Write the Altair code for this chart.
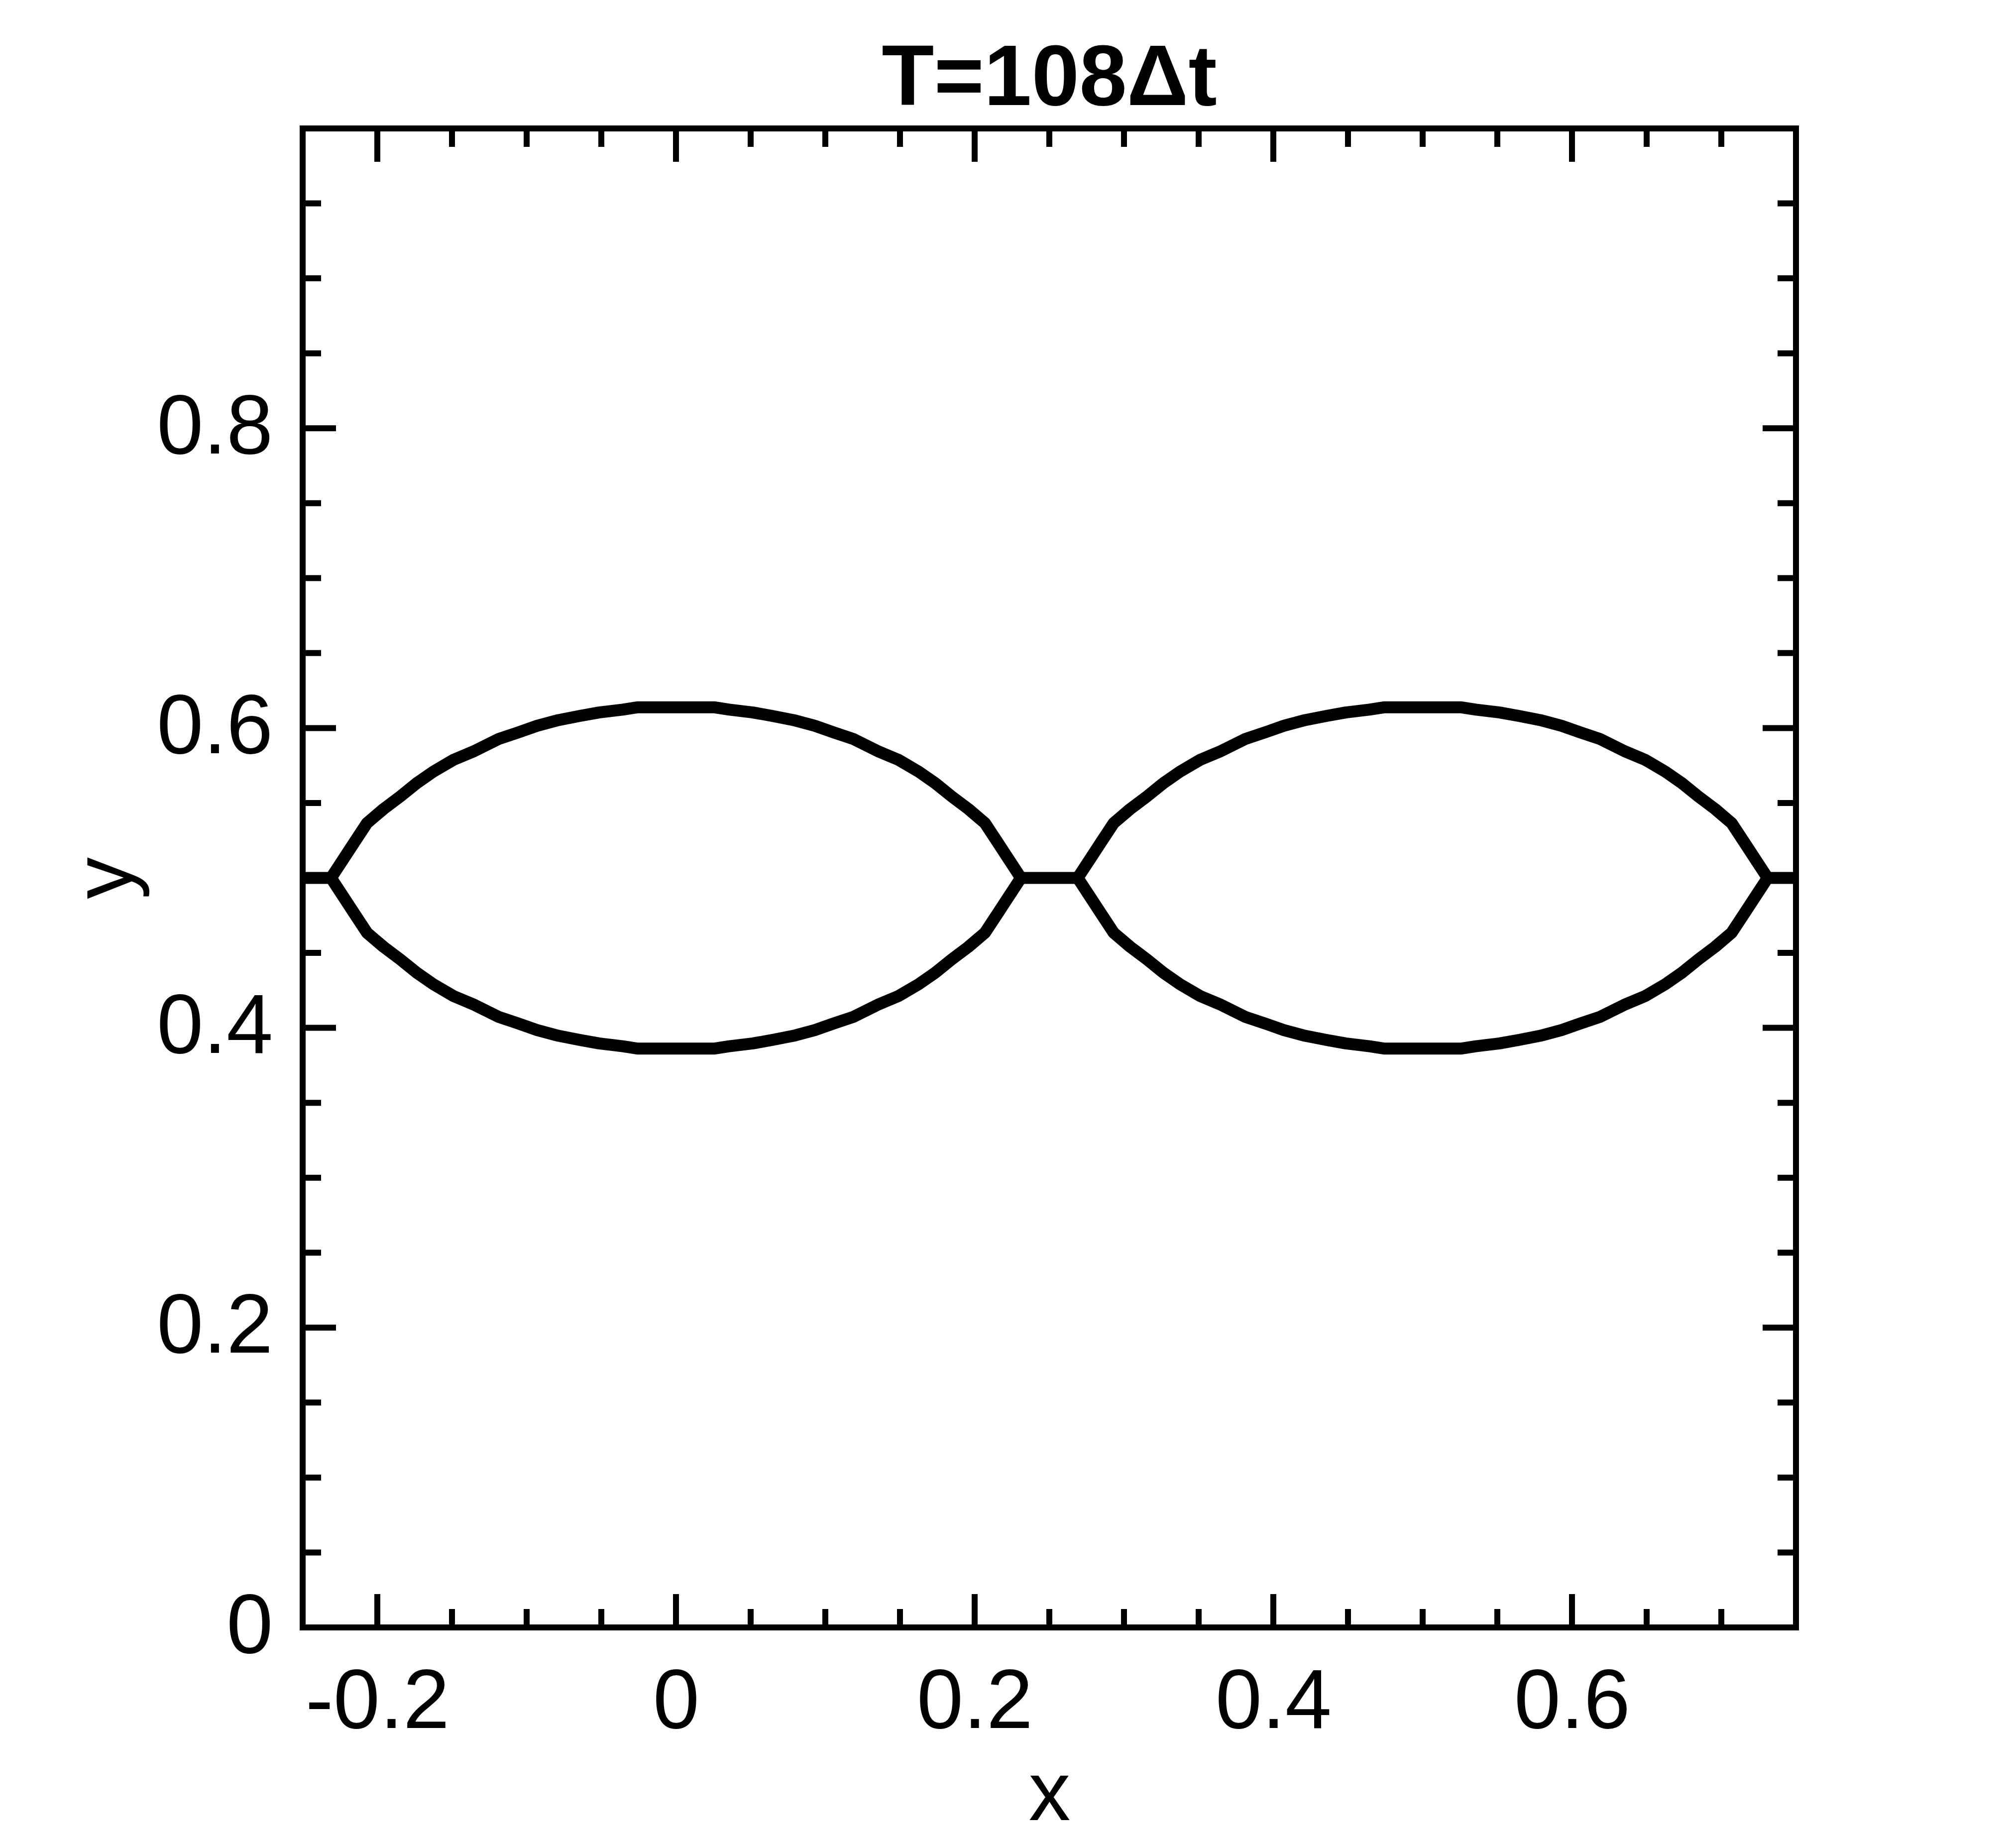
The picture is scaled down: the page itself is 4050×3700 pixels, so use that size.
import altair as alt
import pandas as pd

# ---- data ----
lens1_x = [-0.231, -0.2225, -0.2158, -0.2069, -0.1958, -0.1847, -0.1736, -0.1625, -0.1492,
           -0.1358, -0.1185, -0.1058, -0.093, -0.0787, -0.0643, -0.0515, -0.0356, -0.026,
           0.026, 0.0356, 0.0515, 0.0643, 0.0787, 0.093, 0.1058, 0.1185, 0.1358, 0.1492,
           0.1625, 0.1736, 0.1847, 0.1958, 0.2069, 0.2158, 0.2225, 0.231]
lens2_x = [0.269, 0.2775, 0.2842, 0.2931, 0.3042, 0.3153, 0.3264, 0.3375, 0.3508,
           0.3642, 0.3815, 0.3942, 0.407, 0.4213, 0.4357, 0.4485, 0.4644, 0.474,
           0.526, 0.5356, 0.5515, 0.5643, 0.5787, 0.593, 0.6058, 0.6185, 0.6358, 0.6492,
           0.6625, 0.6736, 0.6847, 0.6958, 0.7069, 0.7158, 0.7225, 0.731]
lens_top_y = [0.5, 0.5129, 0.5231, 0.5366, 0.546, 0.5543, 0.5632, 0.5709, 0.5787,
              0.5843, 0.5928, 0.597, 0.6015, 0.6053, 0.6081, 0.6104, 0.6123, 0.6138,
              0.6138, 0.6123, 0.6104, 0.6081, 0.6053, 0.6015, 0.597, 0.5928, 0.5843, 0.5787,
              0.5709, 0.5632, 0.5543, 0.546, 0.5366, 0.5231, 0.5129, 0.5]
lens_bottom_y = [0.5, 0.4871, 0.4769, 0.4634, 0.454, 0.4457, 0.4368, 0.4291, 0.4213,
                 0.4157, 0.4072, 0.403, 0.3985, 0.3947, 0.3919, 0.3896, 0.3877, 0.3862,
                 0.3862, 0.3877, 0.3896, 0.3919, 0.3947, 0.3985, 0.403, 0.4072, 0.4157, 0.4213,
                 0.4291, 0.4368, 0.4457, 0.454, 0.4634, 0.4769, 0.4871, 0.5]
flat_left_x = [-0.25, -0.231]
flat_mid_x = [0.231, 0.269]
flat_right_x = [0.731, 0.75]
flat_y = [0.5, 0.5]

x_label_values = [-0.2, 0, 0.2, 0.4, 0.6]
y_label_values = [0, 0.2, 0.4, 0.6, 0.8]
x_minor = [-0.15, -0.1, -0.05, 0.05, 0.1, 0.15, 0.25, 0.3, 0.35, 0.45, 0.5, 0.55, 0.65, 0.7]
y_major = [0.2, 0.4, 0.6, 0.8]
y_minor = [0.05, 0.1, 0.15, 0.25, 0.3, 0.35, 0.45, 0.5, 0.55, 0.65, 0.7, 0.75, 0.85, 0.9, 0.95]

title_text = "T=108\u0394t"
FONT = "Liberation Sans"
MAJOR_LEN = 134
MINOR_LEN = 74

# ---- tables ----
segments = [
    ("flat_l", flat_left_x, flat_y),
    ("l1_top", lens1_x, lens_top_y),
    ("l1_bot", lens1_x, lens_bottom_y),
    ("flat_m", flat_mid_x, flat_y),
    ("l2_top", lens2_x, lens_top_y),
    ("l2_bot", lens2_x, lens_bottom_y),
    ("flat_r", flat_right_x, flat_y),
]
rows = []
for name, xs, ys in segments:
    for i, (xv, yv) in enumerate(zip(xs, ys)):
        rows.append({"seg": name, "i": i, "x": xv, "y": yv})
curve_df = pd.DataFrame(rows)

xt_rows = []
for v in x_label_values:
    for side in (0, 1):
        xt_rows.append({"x": v, "y": side, "len": MAJOR_LEN})
for v in x_minor:
    for side in (0, 1):
        xt_rows.append({"x": v, "y": side, "len": MINOR_LEN})
xticks_df = pd.DataFrame(xt_rows)

yt_rows = []
for v in y_major:
    for side in (-0.25, 0.75):
        yt_rows.append({"y": v, "x": side, "len": MAJOR_LEN})
for v in y_minor:
    for side in (-0.25, 0.75):
        yt_rows.append({"y": v, "x": side, "len": MINOR_LEN})
yticks_df = pd.DataFrame(yt_rows)

xscale = alt.Scale(domain=[-0.25, 0.75], nice=False, zero=False)
yscale = alt.Scale(domain=[0, 1], nice=False, zero=False)

x_axis = alt.Axis(
    values=x_label_values, labelExpr="'' + datum.value", ticks=False, tickSize=0,
    domain=False, grid=False, labelFont=FONT, labelFontSize=168, labelColor="black",
    labelPadding=68, labelFlush=False, labelOverlap=False, labelLimit=2000,
    title="x", titleFont=FONT, titleFontSize=168, titleFontWeight="normal",
    titleColor="black", titleBaseline="alphabetic", titleY=386,
)
y_axis = alt.Axis(
    values=y_label_values, labelExpr="'' + datum.value", ticks=False, tickSize=0,
    domain=False, grid=False, labelFont=FONT, labelFontSize=168, labelColor="black",
    labelPadding=60, labelFlush=False, labelOverlap=False, labelLimit=2000,
    title="y", titleFont=FONT, titleFontSize=168, titleFontWeight="normal",
    titleColor="black", titleBaseline="alphabetic", titleAngle=270, titleAlign="center",
    titleX=-344,
)

curve = alt.Chart(curve_df).mark_line(
    color="black", strokeWidth=24, clip=True, strokeJoin="round"
).encode(
    x=alt.X("x:Q", scale=xscale, axis=x_axis, title="x"),
    y=alt.Y("y:Q", scale=yscale, axis=y_axis, title="y"),
    detail="seg:N",
    order="i:Q",
)

xticks = alt.Chart(xticks_df).mark_tick(
    orient="vertical", thickness=12, color="black", opacity=1, clip=True
).encode(
    x=alt.X("x:Q", title="x"),
    y=alt.Y("y:Q", title="y"),
    size=alt.Size("len:Q", scale=None, legend=None),
)

yticks = alt.Chart(yticks_df).mark_tick(
    orient="horizontal", thickness=12, color="black", opacity=1, clip=True
).encode(
    x=alt.X("x:Q", title="x"),
    y=alt.Y("y:Q", title="y"),
    size=alt.Size("len:Q", scale=None, legend=None),
)

chart = alt.layer(curve, xticks, yticks).properties(
    width=3000,
    height=3011,
    autosize=alt.AutoSizeParams(type="none"),
    padding={"left": 600, "top": 250, "right": 434, "bottom": 423},
    title=alt.Title(title_text, font=FONT, fontSize=172, fontWeight="bold",
                    color="black", anchor="middle", baseline="alphabetic",
                    offset=35, dy=160),
    background="white",
).configure_view(
    stroke="black", strokeWidth=12
)

chart.save("out.html", embed_options={"renderer": "svg", "actions": False})
